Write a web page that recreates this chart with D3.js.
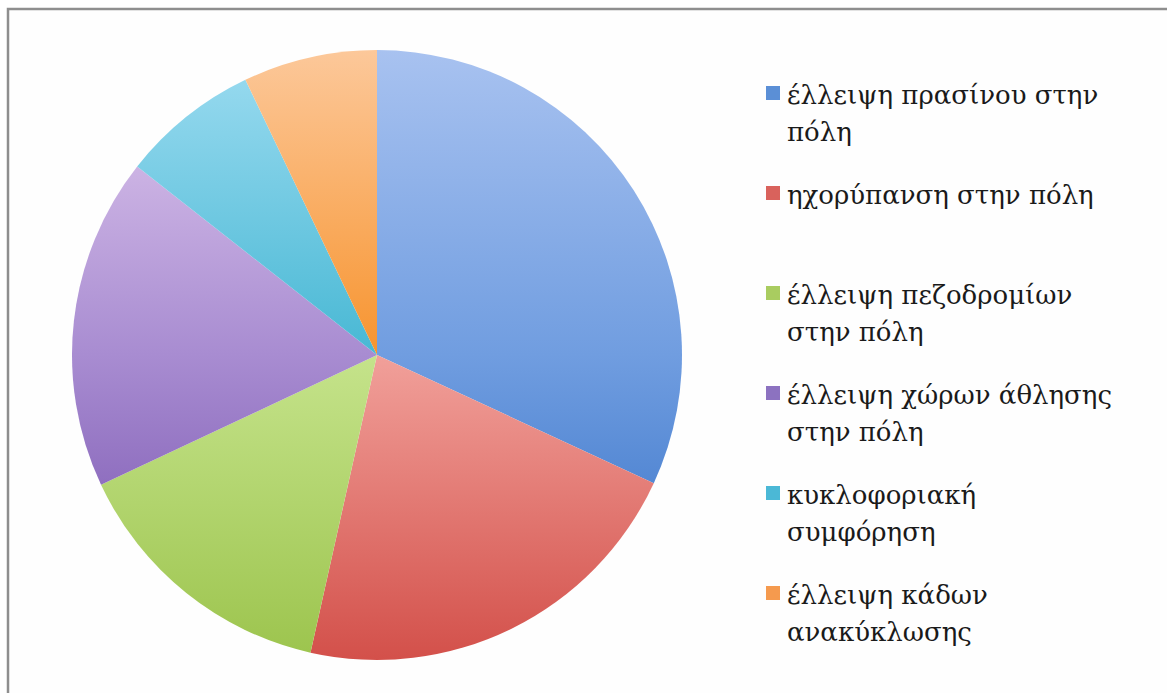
<!DOCTYPE html>
<html lang="el">
<head>
<meta charset="utf-8">
<script src="https://cdn.jsdelivr.net/npm/d3@7"></script>
<style>
  html, body { margin: 0; padding: 0; background: #ffffff; }
  svg { display: block; }
</style>
</head>
<body>
<svg id="chart" width="1167" height="693"></svg>
<script>
// Survey categories (urban problems) and their share of answers, in %
const categories = [
  ["έλλειψη πρασίνου στην", "πόλη"],
  ["ηχορύπανση στην πόλη"],
  ["έλλειψη πεζοδρομίων", "στην πόλη"],
  ["έλλειψη χώρων άθλησης", "στην πόλη"],
  ["κυκλοφοριακή", "συμφόρηση"],
  ["έλλειψη κάδων", "ανακύκλωσης"]
];
const values = [31.9, 21.6, 14.5, 17.6, 7.3, 7.1];

// Slice shading: light at the top of the pie, deeper towards the bottom
const shadeTop = ["#a8c2f0", "#f8c2bd", "#e2f5bb", "#e2cbef", "#9ddcf1", "#fcc89a"];
const shadeMid = ["#709de0", "#f1a09a", "#c5e38b", "#a88cd1", "#48b8d4", "#f7942f"];
const shadeBot = ["#2d6bc3", "#d3504a", "#9cc44d", "#6e48a8", "#2a9cbb", "#e67a18"];
const swatch   = ["#5b8fd6", "#d9625c", "#a9cc60", "#8c72c0", "#4bb8d6", "#f59a4e"];

const W = 1167, H = 693;
const cx = 377, cy = 355, R = 305;

const svg = d3.select("#chart");
const defs = svg.append("defs");

// Frame of the chart area
svg.append("rect")
  .attr("x", 8).attr("y", 9)
  .attr("width", W + 20).attr("height", H + 20)
  .attr("fill", "#fefefe")
  .attr("stroke", "#8e8e8e")
  .attr("stroke-width", 2.5);

values.forEach((v, i) => {
  const g = defs.append("linearGradient")
    .attr("id", "shade" + i)
    .attr("gradientUnits", "userSpaceOnUse")
    .attr("x1", 0).attr("y1", -R)
    .attr("x2", 0).attr("y2", R);
  g.append("stop").attr("offset", 0).attr("stop-color", shadeTop[i]);
  g.append("stop").attr("offset", 0.5).attr("stop-color", shadeMid[i]);
  g.append("stop").attr("offset", 1).attr("stop-color", shadeBot[i]);
});

const pie = d3.pie().sort(null).value(d => d)
  .startAngle(0).endAngle(2 * Math.PI);
const arc = d3.arc().innerRadius(0).outerRadius(R);

const pieG = svg.append("g").attr("transform", `translate(${cx},${cy})`);
pieG.selectAll("path.slice")
  .data(pie(values))
  .join("path")
  .attr("class", "slice")
  .attr("d", arc)
  .attr("fill", (d, i) => `url(#shade${i})`);

// Legend
const legendX = 787, legendY0 = 104, slot = 100, lineH = 37, box = 14;
const legend = svg.append("g").attr("font-family", "'DejaVu Serif', serif")
  .attr("font-size", 26).attr("fill", "#1a1a1a");

categories.forEach((lines, i) => {
  const y = legendY0 + i * slot;
  legend.append("rect")
    .attr("x", legendX - 21).attr("y", y - 18)
    .attr("width", box).attr("height", box)
    .attr("fill", swatch[i]);
  const t = legend.append("text").attr("x", legendX).attr("y", y);
  lines.forEach((ln, j) => {
    t.append("tspan").attr("x", legendX).attr("y", y + j * lineH).text(ln);
  });
});
</script>
</body>
</html>
